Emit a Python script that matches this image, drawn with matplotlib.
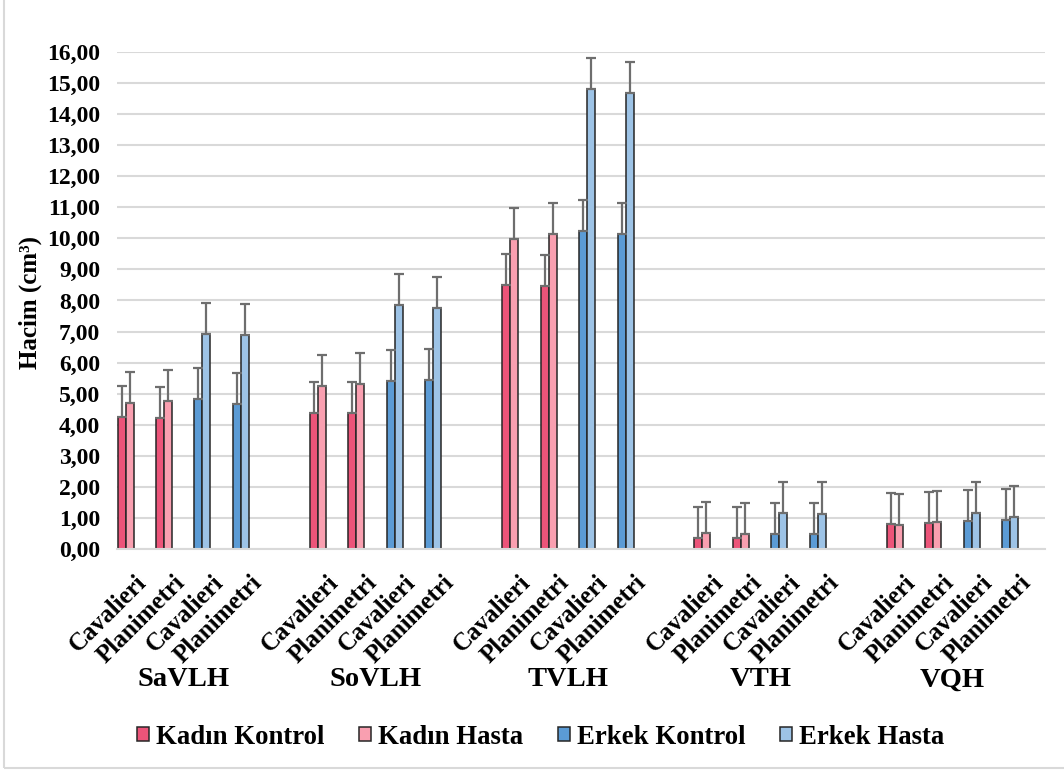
import matplotlib
matplotlib.use('Agg')
import matplotlib.pyplot as plt
import numpy as np
from matplotlib.transforms import ScaledTranslation
from matplotlib.patches import Rectangle

plt.rcParams['font.family'] = ['Liberation Serif', 'DejaVu Serif']
plt.rcParams['font.weight'] = 'bold'

# hacim ortalamalari (cm3), sira: SaVLH Cav, SaVLH Plan, SoVLH Cav, ... VQH Plan
gruplar = ['SaVLH', 'SoVLH', 'TVLH', 'VTH', 'VQH']
yontemler = ['Cavalieri', 'Planimetri']
kadin_kontrol = [4.25, 4.20, 4.37, 4.39, 8.51, 8.45, 0.35, 0.34, 0.80, 0.84]
kadin_hasta = [4.71, 4.77, 5.24, 5.32, 9.98, 10.13, 0.52, 0.48, 0.77, 0.86]
erkek_kontrol = [4.84, 4.66, 5.40, 5.43, 10.25, 10.13, 0.49, 0.47, 0.90, 0.92]
erkek_hasta = [6.93, 6.88, 7.86, 7.77, 14.81, 14.67, 1.16, 1.14, 1.15, 1.03]
hata = 1.0  # sabit hata cubugu
seriler = ['Kadın Kontrol', 'Kadın Hasta', 'Erkek Kontrol', 'Erkek Hasta']
renkler = ['#EC5479', '#F99FB0', '#5B9BD5', '#9DC3E6']

fig = plt.figure(figsize=(10.64, 7.71), dpi=100)
ax = fig.add_axes([0.110, 0.288, 0.872, 0.6446])

# her grupta 4 yer + 1 bosluk
kx = []
ex = []
for g in range(len(gruplar)):
	kx += [5 * g, 5 * g + 1]
	ex += [5 * g + 2, 5 * g + 3]
kx = np.array(kx, dtype=float)
ex = np.array(ex, dtype=float)

w = 0.208
ekw = dict(ecolor='#6e6e6e', elinewidth=1.6, capsize=3.8, capthick=1.6)
kenar = '#262626'
n = len(kadin_kontrol)
yerr = [np.zeros(n), np.full(n, hata)]

ax.bar(kx - w / 2, kadin_kontrol, w, color=renkler[0], edgecolor=kenar, linewidth=1.1,
	label=seriler[0], yerr=yerr, error_kw=ekw)
ax.bar(kx + w / 2, kadin_hasta, w, color=renkler[1], edgecolor=kenar, linewidth=1.1,
	label=seriler[1], yerr=yerr, error_kw=ekw)
ax.bar(ex - w / 2, erkek_kontrol, w, color=renkler[2], edgecolor=kenar, linewidth=1.1,
	label=seriler[2], yerr=yerr, error_kw=ekw)
ax.bar(ex + w / 2, erkek_hasta, w, color=renkler[3], edgecolor=kenar, linewidth=1.1,
	label=seriler[3], yerr=yerr, error_kw=ekw)

ax.set_xlim(-0.22, 23.9)
ax.set_ylim(0, 16)
ax.set_yticks(range(17))
ax.set_yticklabels(['{:.2f}'.format(v).replace('.', ',') for v in range(17)], fontsize=17)
ax.tick_params(axis='y', length=0, pad=12)
ax.set_xticks([])
ax.yaxis.grid(True, color='#d9d9d9', linewidth=1.5)
ax.set_axisbelow(True)
for s in ['top', 'right', 'left']:
	ax.spines[s].set_visible(False)
ax.spines['bottom'].set_color('#d9d9d9')
ax.spines['bottom'].set_linewidth(1.5)

# yontem etiketleri (45 derece) ve grup adlari
tr = ax.get_xaxis_transform()
kay = tr + ScaledTranslation(0.09, -0.22, fig.dpi_scale_trans)
for g in range(len(gruplar)):
	for j in range(4):
		ax.text(5 * g + j, 0, yontemler[j % 2], transform=kay, rotation=45,
			ha='right', va='top', rotation_mode='anchor', fontsize=18)
	ax.text(5 * g + 1.5, 0, gruplar[g], transform=tr + ScaledTranslation(0, -1.31, fig.dpi_scale_trans),
		ha='center', va='center', fontsize=20.5)

fig.text(30 / 1064, 1 - 303 / 771, 'Hacim (cm³)', rotation=90, ha='center', va='center', fontsize=18)

fig.legend(loc='center', bbox_to_anchor=(0.508, 1 - 737 / 771), ncol=4, frameon=False,
	fontsize=19.3, handlelength=0.45, handleheight=0.45, handletextpad=0.25, columnspacing=1.3)

fig.patches.append(Rectangle((4 / 1064, 3 / 771), 2, 2, transform=fig.transFigure,
	fill=False, edgecolor='#d9d9d9', linewidth=1.5))

plt.savefig('out.png', dpi=100)
plt.close()
